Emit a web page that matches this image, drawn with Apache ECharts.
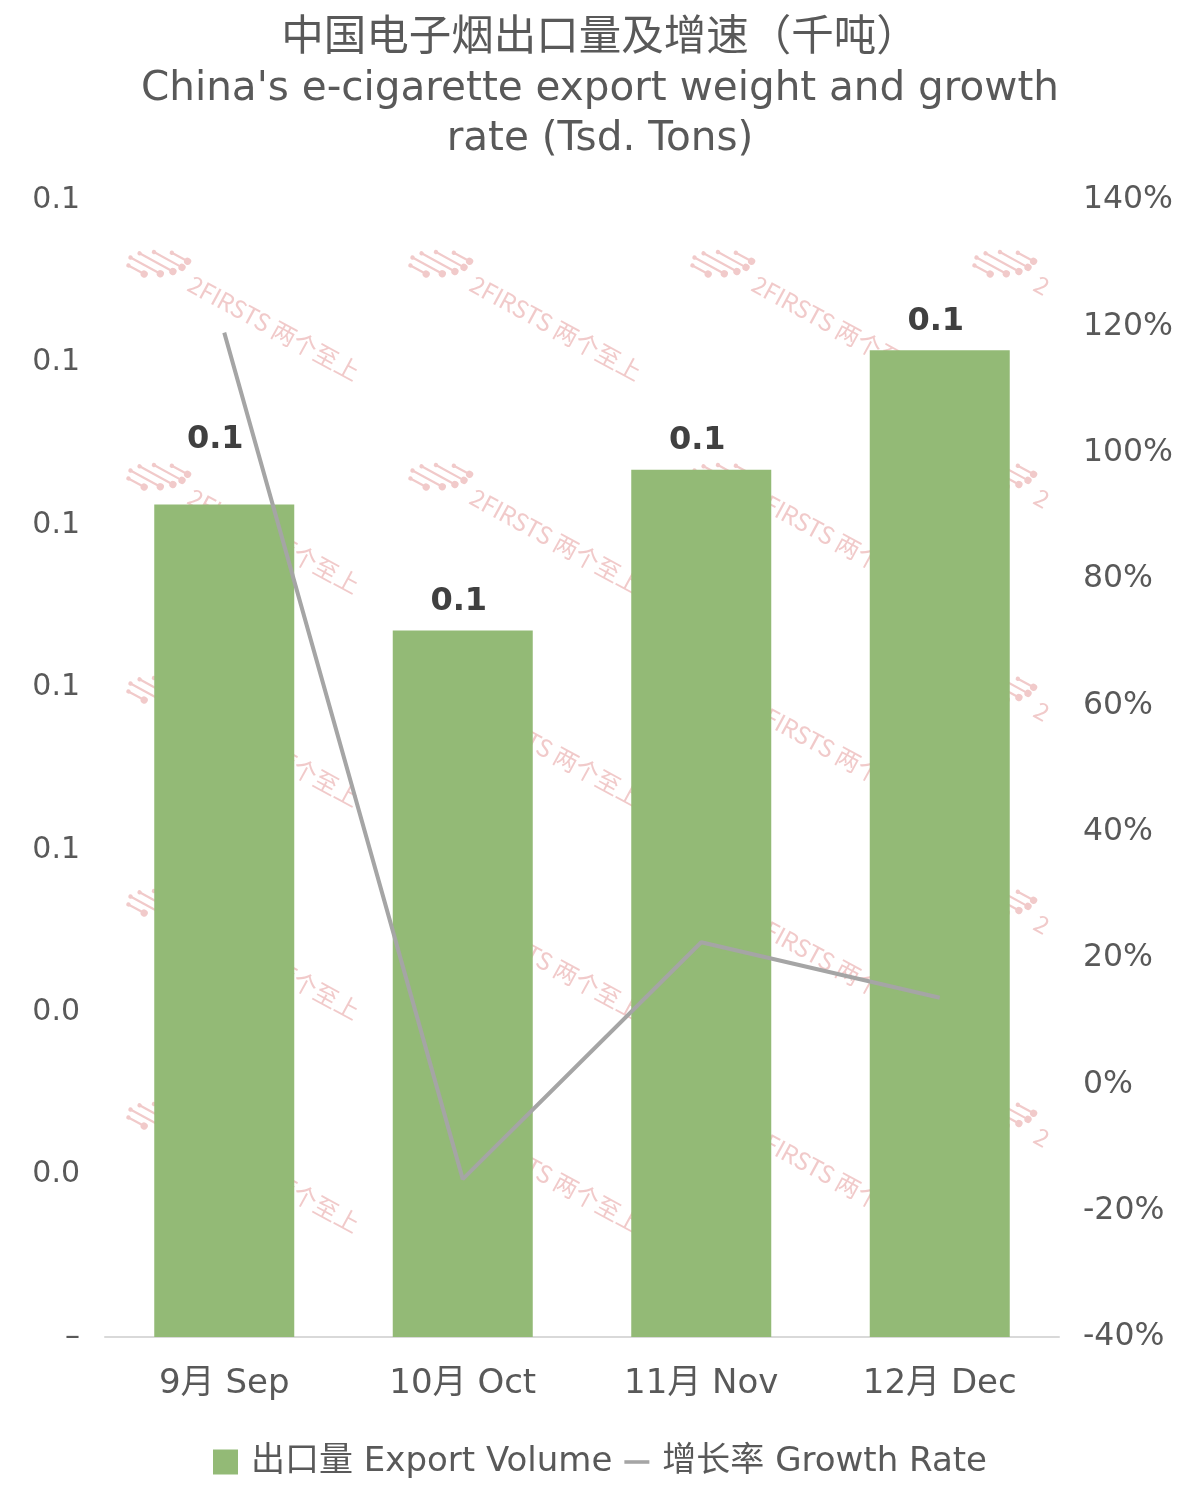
<!DOCTYPE html>
<html><head><meta charset="utf-8">
<script src="https://cdn.jsdelivr.net/npm/echarts@6/dist/echarts.min.js"></script>
<style>html,body{margin:0;padding:0;background:#fff}#c{width:1200px;height:1505px}</style>
</head><body><div id="c"></div>
<script>
const categories = ['9月 Sep', '10月 Oct', '11月 Nov', '12月 Dec'];
const exportVolume = [0.1025, 0.087, 0.1068, 0.1215];
const growthRate = [119, -15, 22.5, 13.7];
const seriesNames = ['出口量 Export Volume', '增长率 Growth Rate'];
const titleCn = '中国电子烟出口量及增速（千吨）';
const titleEn1 = 'China\'s e-cigarette export weight and growth';
const titleEn2 = 'rate (Tsd. Tons)';

const FONT = "'DejaVu Sans', 'Noto Sans CJK SC', sans-serif";
const TXT = '#595959';
const WM = '#F1CACA';

// watermark (decoration)
function logo() {
  const segs = [[-30, -12, -17], [-46, -14, -9], [-58, -20, -1], [-64, -30, 7], [-62, -44, 15]];
  const out = [];
  segs.forEach(s => {
    out.push({ type: 'line', shape: { x1: s[0], y1: s[2], x2: s[1], y2: s[2] }, style: { stroke: WM, lineWidth: 2.2 } });
    out.push({ type: 'circle', shape: { cx: s[0], cy: s[2], r: 2.2 }, style: { fill: WM } });
    out.push({ type: 'circle', shape: { cx: s[1], cy: s[2], r: 3.6 }, style: { fill: WM } });
  });
  return out;
}
const wm = [];
for (let r = 0; r < 5; r++) {
  for (let c = 0; c < 4; c++) {
    wm.push({
      type: 'group', z: -10, silent: true,
      x: 190 + c * 282, y: 282 + r * 213, rotation: -0.5,
      children: logo().concat([{
        type: 'text',
        style: { text: c === 3 ? '2' : '2FIRSTS 两个至上', fill: WM, x: 0, y: 0,
          font: "24px 'Liberation Sans Narrow', 'Noto Sans CJK SC', sans-serif", textVerticalAlign: 'middle' }
      }])
    });
  }
}

const chart = echarts.init(document.getElementById('c'), null, {renderer: 'canvas'});
chart.setOption({
  animation: false,
  backgroundColor: '#fff',
  graphic: wm,
  title: {
    text: '{cn|' + titleCn + '}\n{en|' + titleEn1 + '}\n{en|' + titleEn2 + '}',
    left: 'center', top: 9,
    textStyle: {
      fontFamily: FONT, fontWeight: 'normal', color: TXT, lineHeight: 50,
      rich: {
        cn: { fontFamily: FONT, fontSize: 42.5, color: TXT, lineHeight: 50 },
        en: { fontFamily: FONT, fontSize: 40.5, color: TXT, lineHeight: 50 }
      }
    }
  },
  grid: { left: 105, right: 141, top: 200, bottom: 168 },
  legend: {
    top: 1440, left: 'center', itemGap: 12, itemWidth: 25, itemHeight: 25,
    textStyle: { fontFamily: FONT, fontSize: 34, color: TXT, padding: [0, 0, 0, 8] },
    data: [
      { name: seriesNames[0], icon: 'rect' },
      { name: seriesNames[1], icon: 'path://M0,11L28,11L28,15L0,15Z' }
    ]
  },
  xAxis: {
    type: 'category', data: categories,
    axisLine: { lineStyle: { color: '#D9D9D9', width: 2 } },
    axisTick: { show: false },
    axisLabel: { fontFamily: FONT, fontSize: 34, color: TXT, margin: 30 }
  },
  yAxis: [
    {
      type: 'value', min: 0, max: 0.14, interval: 0.02,
      splitLine: { show: false }, axisLine: { show: false }, axisTick: { show: false },
      axisLabel: { fontFamily: FONT, fontSize: 30, color: TXT, margin: 25,
        formatter: v => Math.abs(v) < 1e-9 ? '–' : v.toFixed(1) }
    },
    {
      type: 'value', min: -40, max: 140, interval: 20,
      splitLine: { show: false }, axisLine: { show: false }, axisTick: { show: false },
      axisLabel: { fontFamily: FONT, fontSize: 31.5, color: TXT, margin: 24,
        formatter: v => Math.round(v) + '%' }
    }
  ],
  series: [
    {
      name: seriesNames[0], type: 'bar', barWidth: 140, z: 2,
      itemStyle: { color: '#93BA76' },
      label: { show: true, position: 'top', distance: 13, offset: [-4, 0], fontFamily: FONT, fontSize: 32,
        fontWeight: 'bold', color: '#404040', formatter: p => p.value.toFixed(1) },
      data: exportVolume.map((v, i) => i === 0 ? { value: v, label: { offset: [-9, -36] } } : v)
    },
    {
      name: seriesNames[1], type: 'line', yAxisIndex: 1, z: 3,
      symbol: 'none', lineStyle: { color: '#A5A5A5', width: 4 },
      itemStyle: { color: '#A5A5A5' },
      data: growthRate
    }
  ]
});
</script></body></html>
